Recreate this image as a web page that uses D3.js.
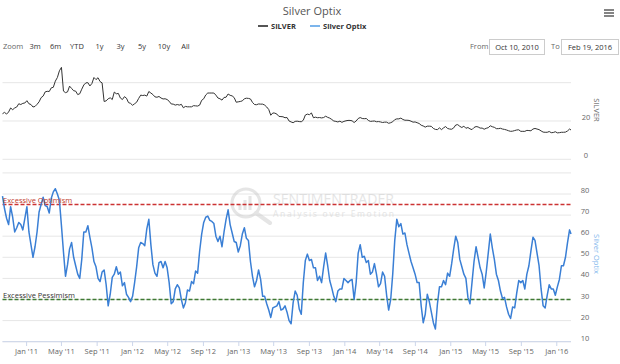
<!DOCTYPE html>
<html><head><meta charset="utf-8">
<script src="https://cdn.jsdelivr.net/npm/d3@7"></script>
<style>body{margin:0;background:#fff;} svg{display:block;font-family:"Open Sans",sans-serif;}</style>
</head><body><svg id="c" width="620" height="364"></svg>
<script>
const chartTitle = "Silver Optix";
const seriesNames = ["SILVER", "Silver Optix"];
const zoomLabel = "Zoom";
const zoomButtons = ["3m", "6m", "YTD", "1y", "3y", "5y", "10y", "All"];
const fromText = "Oct 10, 2010";
const toText = "Feb 19, 2016";
const startDate = "2010-10-10";
const endDate = "2016-02-19";
const stepDays = 7;
const silverTicks = [0, 20, 40];
const silverLabelTicks = [0, 20];
const optixTicks = [10, 20, 30, 40, 50, 60, 70, 80, 90];
const optixLabelTicks = [10, 20, 30, 40, 50, 60, 70, 80];
const optimismLevel = 75;
const pessimismLevel = 30;
const bandLabels = ["Excessive Optimism", "Excessive Pessimism"];

const silverValues = [
23.8,24.5,23.6,24.7,26.8,25.9,26.8,27.3,29.0,28.6,29.2,29.4,30.6,
29.0,28.6,27.3,27.6,28.7,30.0,32.2,33.0,35.2,35.5,35.4,37.3,37.6,40.8,42.7,46.2,48.0,35.6,34.8,35.2,38.2,37.0,35.8,35.6,33.8,34.2,36.6,38.8,39.9,40.0,38.3,39.6,42.7,41.6,42.6,40.6,39.9,30.2,30.5,31.6,32.1,31.2,35.1,34.2,34.4,32.0,31.2,32.7,31.9,29.6,29.2,28.2,
29.0,29.8,31.8,33.5,33.3,33.5,33.0,35.4,34.6,33.8,32.6,32.4,32.8,32.0,31.5,31.6,31.2,30.3,28.9,28.8,28.3,28.6,28.3,28.7,26.9,27.6,27.4,27.4,27.4,28.0,27.9,27.8,28.3,30.8,31.6,33.6,34.6,34.6,34.6,34.6,33.5,32.0,31.6,30.9,32.3,32.4,34.1,33.4,33.1,32.2,29.8,30.0,
30.2,30.5,31.6,31.9,31.8,31.5,29.7,28.6,28.5,28.9,28.8,28.8,28.3,27.3,26.0,23.0,24.2,24.1,23.6,22.4,22.3,22.2,21.7,21.8,20.0,19.5,19.1,19.8,19.9,19.7,19.6,20.4,23.1,23.6,23.3,24.2,21.7,22.0,21.7,21.8,21.6,21.8,22.5,21.9,21.5,20.8,20.0,19.8,19.5,19.9,19.3,19.8,
20.1,20.3,20.3,20.1,19.2,20.0,21.3,21.8,21.3,21.2,21.3,20.3,19.8,19.9,20.0,19.6,19.7,19.5,19.2,19.4,19.4,18.8,19.1,19.6,20.7,21.1,21.1,21.5,20.8,20.4,20.4,20.3,19.9,19.4,19.5,19.1,18.7,17.8,17.4,16.8,17.3,17.3,17.2,16.1,15.6,15.5,16.4,15.5,16.4,17.1,16.1,15.8,
15.7,16.4,17.9,18.1,17.2,16.6,17.3,16.2,16.6,15.9,15.5,16.6,17.1,16.9,16.3,16.3,15.7,16.2,16.5,17.5,17.0,16.7,16.0,16.0,16.2,15.8,15.6,15.3,14.9,14.6,14.7,15.0,15.3,15.4,14.6,14.6,14.6,15.1,15.0,14.9,15.8,16.1,15.8,15.5,14.8,14.2,14.1,14.1,14.5,13.9,14.0,14.4,
13.8,13.9,14.1,14.1,14.2,14.8,15.8,15.3
];

const optixValues = [
79,73,68.5,65.5,74,69,62,64,66.5,65.5,63,68.5,74,62,56,50,55,62,71.5,75,
78.5,74.5,74,71,78,81,82.5,80,77,65,52.5,41,46.5,54,57,50,46,42,40,49,
62,62,65,59.5,54.5,48,45.5,40,38.5,43,44,37,27,32.5,40.5,42,45.5,42,43,36.5,
38,32.5,31,29,31.5,38,45.5,54.5,57,56.5,55.5,63.5,68,56,46.5,42.5,41,47.5,48,45,
48,45,38,28,29,35,37,35.5,30,26,28.5,34.5,34,38.5,37.5,43.5,42.5,53,61,66.5,
69,69.5,67.5,67,66,60,57.5,60,55,62,68,72.5,65.5,61.5,57.5,57,52.5,55.5,61,64,
59,58,48,41,36,39,44,39.5,31.5,31.5,28,25,21.5,26,26.5,27,29,25,25.5,27,
24,20,18.5,28.5,34,32,25.5,23,38,48.5,51.5,48.5,49,45,45,39,41,38,45.5,52,
46,39,35.5,31.5,29,34,35,35,40,39,38,39,39.5,30,38,52,56,50,50.5,47.5,
48.5,42,43,47,42,36,37.5,43,41,32,25,30,42,58,68,64.5,66,61,61.5,56,
52,48,45,42,38,38,27,19,23,32.5,29,24,19,16,28,36,36,39,37,42.5,
41,47,54,60,57,49,45.5,42,40,31,28,38,48,55,50,45,42,35.5,43,52,
61,54.5,49,42,39,34,30.5,31,26.5,23,21,26.5,26,33,39,38,39,35,42,46,
53,59.5,58,52,46,35,27,26,32,37,35,35,32,36,39.5,46,46,50,57,63,
61
];

const svg = d3.select("#c");
const parse = d3.timeParse("%Y-%m-%d");
const t0 = parse(startDate), t1 = parse(endDate);
const weeklyDates = d3.range(silverValues.length - 1).map(i => d3.timeDay.offset(t0, i * stepDays));
const dates = weeklyDates.concat([t1]);

const x = d3.scaleTime().domain([t0, t1]).range([2.5, 571]);
const ySilver = d3.scaleLinear().domain([0, 50.8]).range([159.3, 62]);
const yOptix = d3.scaleLinear().domain([10, 90]).range([341.7, 172.9]);

const grid = "#e6e6e6";
const axisCol = "#ccd6eb";
const labCol = "#666";

// gridlines
svg.append("g").selectAll("line").data(silverTicks).join("line")
  .attr("x1", 2.5).attr("x2", 571)
  .attr("y1", d => ySilver(d)).attr("y2", d => ySilver(d))
  .attr("stroke", grid).attr("stroke-width", 1);
svg.append("g").selectAll("line").data(optixTicks).join("line")
  .attr("x1", 2.5).attr("x2", 571)
  .attr("y1", d => yOptix(d)).attr("y2", d => yOptix(d))
  .attr("stroke", grid).attr("stroke-width", 1);

// y labels
svg.append("g").selectAll("text").data(silverLabelTicks).join("text")
  .attr("x", 586).attr("y", d => ySilver(d) - 1)
  .attr("text-anchor", "middle").attr("font-size", 7.5).attr("fill", labCol)
  .text(d => d);
svg.append("g").selectAll("text").data(optixLabelTicks).join("text")
  .attr("x", 585).attr("y", d => yOptix(d) - 1)
  .attr("text-anchor", "middle").attr("font-size", 7.5).attr("fill", labCol)
  .text(d => d);

// axis titles
svg.append("text").attr("transform", "translate(594,110) rotate(90)")
  .attr("text-anchor", "middle").attr("font-size", 7.5).attr("fill", labCol).text(seriesNames[0]);
svg.append("text").attr("transform", "translate(594,254) rotate(90)")
  .attr("text-anchor", "middle").attr("font-size", 7.5).attr("fill", "#7cb5ec").text(seriesNames[1]);

// x axis
const xTicks = d3.timeMonth.every(4).range(d3.timeMonth.ceil(t0), t1).filter(d => [0,4,8].includes(d.getMonth()));
const fmt = d => d3.timeFormat("%b '%y")(d);
svg.append("line").attr("x1", 2.5).attr("x2", 571).attr("y1", 341.7).attr("y2", 341.7)
  .attr("stroke", axisCol).attr("stroke-width", 1);
svg.append("g").selectAll("line").data(xTicks).join("line")
  .attr("x1", d => x(d)).attr("x2", d => x(d)).attr("y1", 341.7).attr("y2", 346)
  .attr("stroke", axisCol);
svg.append("g").selectAll("text").data(xTicks).join("text")
  .attr("x", d => x(d)).attr("y", 353.5).attr("text-anchor", "middle")
  .attr("font-size", 7.5).attr("fill", labCol).text(fmt);

// watermark
const wm = svg.append("g").attr("opacity", 0.5);
wm.append("circle").attr("cx", 246).attr("cy", 203).attr("r", 14).attr("fill", "none").attr("stroke", "#ccc").attr("stroke-width", 3);
wm.append("line").attr("x1", 256).attr("y1", 213).attr("x2", 270).attr("y2", 223).attr("stroke", "#ccc").attr("stroke-width", 4).attr("stroke-linecap", "round");
[[240,6],[245,10],[250,14]].forEach(([bx,bh]) => wm.append("rect").attr("x", bx-1.5).attr("y", 210-bh).attr("width", 3).attr("height", bh).attr("fill", "#ccc"));
wm.append("text").attr("x", 273).attr("y", 203.5).attr("font-size", 14).attr("textLength", 121).attr("lengthAdjust", "spacingAndGlyphs").attr("fill", "#ccc").text("SENTIMENTRADER");
wm.append("text").attr("x", 273).attr("y", 216.5).attr("font-size", 8.5).attr("textLength", 121).attr("lengthAdjust", "spacing").attr("fill", "#ccc").text("Analysis over Emotion");

// band lines
svg.append("line").attr("x1", 2.5).attr("x2", 571).attr("y1", yOptix(optimismLevel)).attr("y2", yOptix(optimismLevel))
  .attr("stroke", "#cc3333").attr("stroke-width", 1.5).attr("stroke-dasharray", "4,2");
svg.append("line").attr("x1", 2.5).attr("x2", 571).attr("y1", yOptix(pessimismLevel)).attr("y2", yOptix(pessimismLevel))
  .attr("stroke", "#3f7a33").attr("stroke-width", 1.5).attr("stroke-dasharray", "4,2");

// series lines
const silverLine = d3.line().x((d, i) => x(dates[i])).y(d => ySilver(d));
const optixLine = d3.line().x((d, i) => x(dates[i])).y(d => yOptix(d));
svg.append("path").attr("d", silverLine(silverValues)).attr("fill", "none").attr("stroke", "#333").attr("stroke-width", 1);
svg.append("path").attr("d", optixLine(optixValues)).attr("fill", "none").attr("stroke", "#3a7fd5").attr("stroke-width", 1.5).attr("stroke-linejoin", "round");

// band labels
svg.append("text").attr("x", 3).attr("y", yOptix(optimismLevel) - 2).attr("font-size", 7.5).attr("fill", "#c0392b").text(bandLabels[0]);
svg.append("text").attr("x", 3).attr("y", yOptix(pessimismLevel) - 2).attr("font-size", 7.5).attr("fill", "#333").text(bandLabels[1]);

// title & legend
svg.append("text").attr("x", 312).attr("y", 15).attr("text-anchor", "middle").attr("font-size", 11).attr("fill", "#555").text(chartTitle);
const legendCols = ["#555", "#7cb5ec"];
const legendX = [258, 310];
seriesNames.forEach((n, i) => {
  svg.append("line").attr("x1", legendX[i]).attr("x2", legendX[i] + 10).attr("y1", 26).attr("y2", 26).attr("stroke", legendCols[i]).attr("stroke-width", 2);
  svg.append("text").attr("x", legendX[i] + 13).attr("y", 28.7).attr("font-size", 7.5).attr("font-weight", "bold").attr("fill", "#333").text(n);
});

// range selector
svg.append("text").attr("x", 3).attr("y", 49).attr("font-size", 7.5).attr("fill", labCol).text(zoomLabel);
const btnX = [35, 55.5, 77, 99.5, 120.5, 142, 164, 185.5];
zoomButtons.forEach((b, i) => svg.append("text").attr("x", btnX[i]).attr("y", 49).attr("text-anchor", "middle").attr("font-size", 7.5).attr("fill", "#333").text(b));
svg.append("text").attr("x", 470).attr("y", 49).attr("font-size", 7.5).attr("fill", labCol).text("From");
svg.append("rect").attr("x", 489.5).attr("y", 39.5).attr("width", 55).attr("height", 15).attr("fill", "#fff").attr("stroke", "#ccc");
svg.append("text").attr("x", 517).attr("y", 49.5).attr("text-anchor", "middle").attr("font-size", 7.5).attr("fill", "#333").text(fromText);
svg.append("text").attr("x", 551).attr("y", 49).attr("font-size", 7.5).attr("fill", labCol).text("To");
svg.append("rect").attr("x", 561.5).attr("y", 39.5).attr("width", 57).attr("height", 15).attr("fill", "#fff").attr("stroke", "#ccc");
svg.append("text").attr("x", 590).attr("y", 49.5).attr("text-anchor", "middle").attr("font-size", 7.5).attr("fill", "#333").text(toText);

// hamburger
[10, 13, 16].forEach(yy => svg.append("line").attr("x1", 604).attr("x2", 614).attr("y1", yy).attr("y2", yy).attr("stroke", "#666").attr("stroke-width", 1.6));
</script></body></html>
